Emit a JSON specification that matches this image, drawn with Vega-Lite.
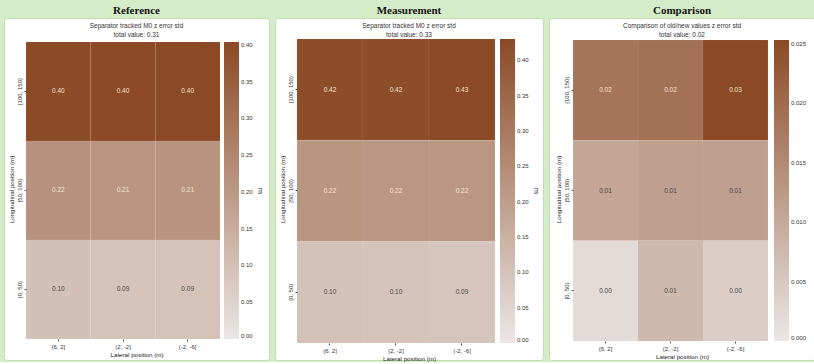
{
  "$schema": "https://vega.github.io/schema/vega-lite/v6.json",
  "background": "#d5ecc8",
  "padding": {"left": 3, "top": 4, "right": 0, "bottom": 0},
  "spacing": 4,
  "datasets": {
    "ref": [
      {"lon": "[100, 150)", "lat": "(6, 2]", "v": 0.402},
      {"lon": "[100, 150)", "lat": "(2, -2]", "v": 0.401},
      {"lon": "[100, 150)", "lat": "(-2, -6]", "v": 0.403},
      {"lon": "[50, 100)", "lat": "(6, 2]", "v": 0.218},
      {"lon": "[50, 100)", "lat": "(2, -2]", "v": 0.212},
      {"lon": "[50, 100)", "lat": "(-2, -6]", "v": 0.213},
      {"lon": "[0, 50)", "lat": "(6, 2]", "v": 0.099},
      {"lon": "[0, 50)", "lat": "(2, -2]", "v": 0.094},
      {"lon": "[0, 50)", "lat": "(-2, -6]", "v": 0.092}
    ],
    "meas": [
      {"lon": "[100, 150)", "lat": "(6, 2]", "v": 0.421},
      {"lon": "[100, 150)", "lat": "(2, -2]", "v": 0.422},
      {"lon": "[100, 150)", "lat": "(-2, -6]", "v": 0.429},
      {"lon": "[50, 100)", "lat": "(6, 2]", "v": 0.222},
      {"lon": "[50, 100)", "lat": "(2, -2]", "v": 0.219},
      {"lon": "[50, 100)", "lat": "(-2, -6]", "v": 0.218},
      {"lon": "[0, 50)", "lat": "(6, 2]", "v": 0.101},
      {"lon": "[0, 50)", "lat": "(2, -2]", "v": 0.098},
      {"lon": "[0, 50)", "lat": "(-2, -6]", "v": 0.092}
    ],
    "comp": [
      {"lon": "[100, 150)", "lat": "(6, 2]", "v": 0.0185},
      {"lon": "[100, 150)", "lat": "(2, -2]", "v": 0.019},
      {"lon": "[100, 150)", "lat": "(-2, -6]", "v": 0.0253},
      {"lon": "[50, 100)", "lat": "(6, 2]", "v": 0.0105},
      {"lon": "[50, 100)", "lat": "(2, -2]", "v": 0.0115},
      {"lon": "[50, 100)", "lat": "(-2, -6]", "v": 0.0115},
      {"lon": "[0, 50)", "lat": "(6, 2]", "v": 0.002},
      {"lon": "[0, 50)", "lat": "(2, -2]", "v": 0.0075},
      {"lon": "[0, 50)", "lat": "(-2, -6]", "v": 0.004}
    ]
  },
  "config": {
    "view": {"fill": "#ffffff", "stroke": "#bfe0ae", "strokeWidth": 1, "cornerRadius": 3},
    "title": {"font": "Liberation Serif", "fontSize": 11, "fontWeight": "bold", "color": "#111111", "subtitleFont": "Liberation Sans", "subtitleFontSize": 6.5, "subtitleColor": "#333333", "subtitlePadding": 7, "subtitleLineHeight": 8.5, "offset": -20, "anchor": "middle", "frame": "group"},
    "axis": {"labelFont": "Liberation Sans", "labelFontSize": 6, "labelColor": "#333333", "titleFont": "Liberation Sans", "titleFontSize": 6.2, "titleFontWeight": "normal", "titleColor": "#222222", "domain": false, "tickSize": 2, "tickColor": "#555555", "labelPadding": 2, "titlePadding": 2, "grid": false},
    "legend": {"labelFont": "Liberation Sans", "labelFontSize": 6, "labelColor": "#333333", "titleFont": "Liberation Sans", "titleFontSize": 7, "titleFontWeight": "normal", "titleColor": "#222222", "padding": 0, "gradientStrokeWidth": 0, "labelOverlap": false, "labelOffset": 6}
  },
  "hconcat": [
    {
      "title": {"text": "Reference", "subtitle": ["Separator tracked M0 z error std", "total value: 0.31"]},
      "width": 265, "height": 342,
      "data": {"name": "ref"},
      "encoding": {
        "x": {"field": "lat", "type": "ordinal", "sort": ["(6, 2]", "(2, -2]", "(-2, -6]"], "scale": {"paddingInner": 0, "paddingOuter": 0.549, "align": 0.31}, "axis": {"title": "Lateral position (m)", "labelAngle": 0, "offset": -21}},
        "y": {"field": "lon", "type": "ordinal", "sort": ["[100, 150)", "[50, 100)", "[0, 50)"], "scale": {"paddingInner": 0, "paddingOuter": 0.227, "align": 0.533}, "axis": {"title": "Longitudinal position (m)", "labelAngle": -90, "labelAlign": "center", "labelBaseline": "bottom", "offset": -22}}
      },
      "layer": [
        {"mark": {"type": "rect", "stroke": "#ffffff", "strokeWidth": 0.5, "strokeOpacity": 0.12},
         "encoding": {"color": {"field": "v", "type": "quantitative", "scale": {"domain": [0, 0.404], "range": ["#ebe7e6", "#8b4a25"], "interpolate": "rgb"},
           "legend": {"orient": "none", "legendX": 220, "legendY": 24, "direction": "vertical", "gradientLength": 297, "gradientThickness": 15, "values": [0, 0.05, 0.1, 0.15, 0.2, 0.25, 0.3, 0.35, 0.4], "format": ".2f", "title": "m", "titleOrient": "right", "titleAngle": 90, "titlePadding": 4}}}},
        {"mark": {"type": "text", "font": "Liberation Sans", "fontSize": 6.5},
         "encoding": {"text": {"field": "v", "type": "quantitative", "format": ".2f"}, "color": {"condition": {"test": "datum.v > 0.15", "value": "#f5e3d2"}, "value": "#444444"}}}
      ]
    },
    {
      "title": {"text": "Measurement", "subtitle": ["Separator tracked M0 z error  std", "total value: 0.33"]},
      "width": 268, "height": 342,
      "data": {"name": "meas"},
      "encoding": {
        "x": {"field": "lat", "type": "ordinal", "sort": ["(6, 2]", "(2, -2]", "(-2, -6]"], "scale": {"paddingInner": 0, "paddingOuter": 0.53, "align": 0.314}, "axis": {"title": "Lateral position (m)", "labelAngle": 0, "offset": -17}},
        "y": {"field": "lon", "type": "ordinal", "sort": ["[100, 150)", "[50, 100)", "[0, 50)"], "scale": {"paddingInner": 0, "paddingOuter": 0.1875, "align": 0.55}, "axis": {"title": "Longitudinal position (m)", "labelAngle": -90, "labelAlign": "center", "labelBaseline": "bottom", "offset": -22}}
      },
      "layer": [
        {"mark": {"type": "rect", "stroke": "#ffffff", "strokeWidth": 0.5, "strokeOpacity": 0.12},
         "encoding": {"color": {"field": "v", "type": "quantitative", "scale": {"domain": [0, 0.43], "range": ["#ebe7e6", "#8b4a25"], "interpolate": "rgb"},
           "legend": {"orient": "none", "legendX": 225, "legendY": 21, "direction": "vertical", "gradientLength": 304, "gradientThickness": 15, "values": [0, 0.05, 0.1, 0.15, 0.2, 0.25, 0.3, 0.35, 0.4], "format": ".2f", "title": "m", "titleOrient": "right", "titleAngle": 90, "titlePadding": 4}}}},
        {"mark": {"type": "text", "font": "Liberation Sans", "fontSize": 6.5},
         "encoding": {"text": {"field": "v", "type": "quantitative", "format": ".2f"}, "color": {"condition": {"test": "datum.v > 0.15", "value": "#f5e3d2"}, "value": "#444444"}}}
      ]
    },
    {
      "title": {"text": "Comparison", "subtitle": ["Comparison of old/new values z error std", "total value: 0.02"]},
      "width": 266, "height": 342,
      "data": {"name": "comp"},
      "encoding": {
        "x": {"field": "lat", "type": "ordinal", "sort": ["(6, 2]", "(2, -2]", "(-2, -6]"], "scale": {"paddingInner": 0, "paddingOuter": 0.546, "align": 0.338}, "axis": {"title": "Lateral position (m)", "labelAngle": 0, "offset": -19}},
        "y": {"field": "lon", "type": "ordinal", "sort": ["[100, 150)", "[50, 100)", "[0, 50)"], "scale": {"paddingInner": 0, "paddingOuter": 0.204, "align": 0.537}, "axis": {"title": "Longitudinal position (m)", "labelAngle": -90, "labelAlign": "center", "labelBaseline": "bottom", "offset": -24}}
      },
      "layer": [
        {"mark": {"type": "rect", "stroke": "#ffffff", "strokeWidth": 0.5, "strokeOpacity": 0.12},
         "encoding": {"color": {"field": "v", "type": "quantitative", "scale": {"domain": [0, 0.0253], "range": ["#ebe7e6", "#8b4a25"], "interpolate": "rgb"},
           "legend": {"orient": "none", "legendX": 225, "legendY": 22, "direction": "vertical", "gradientLength": 301, "gradientThickness": 15, "values": [0, 0.005, 0.01, 0.015, 0.02, 0.025], "format": ".3f", "title": null}}}},
        {"mark": {"type": "text", "font": "Liberation Sans", "fontSize": 6.5},
         "encoding": {"text": {"field": "v", "type": "quantitative", "format": ".2f"}, "color": {"condition": {"test": "datum.v > 0.015", "value": "#f5e3d2"}, "value": "#444444"}}}
      ]
    }
  ],
  "resolve": {"scale": {"color": "independent", "x": "independent", "y": "independent"}}
}
